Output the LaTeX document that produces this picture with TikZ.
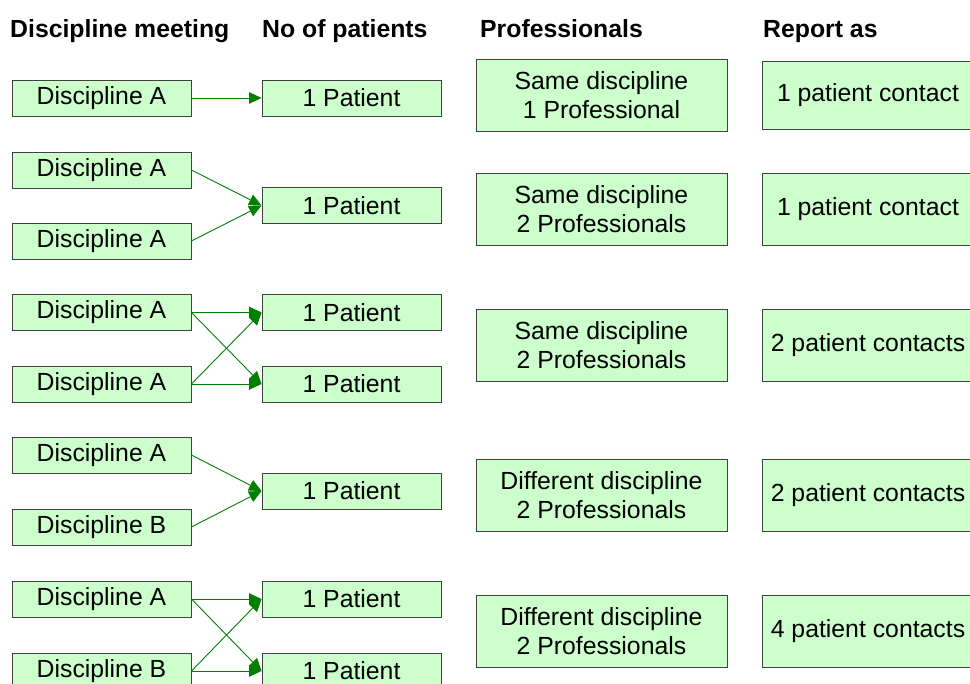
\documentclass[tikz,border=0pt]{standalone}
\usepackage{fontspec}
\setmainfont{Liberation Sans}
\usetikzlibrary{arrows.meta,positioning}
\definecolor{boxgreen}{HTML}{CCFFCC}
\definecolor{linkgreen}{HTML}{008000}
\tikzset{
  box/.style={draw=black!75, line width=0.9pt, fill=boxgreen, inner sep=0pt,
    align=center, font=\fontsize{24.8}{29.5}\selectfont},
  discbox/.style={box, minimum width=179pt, minimum height=36pt},
  patbox/.style={box, minimum width=179pt, minimum height=36pt},
  profbox/.style={box, minimum width=251pt, minimum height=72pt},
  reportbox/.style={box, minimum width=212pt, minimum height=72pt},
  heading/.style={anchor=base west, inner sep=0pt,
    font=\fontsize{24.8}{29.5}\selectfont\bfseries},
  link/.style={draw=linkgreen, line width=0.9pt,
    -{Triangle[length=12.5pt,width=11.5pt]}},
}

\begin{document}
\begin{tikzpicture}[x=1pt,y=-1pt]
  \useasboundingbox (0,0) rectangle (970,684);
  % column headings
  \node [heading] (hmeet) at (10,38) {Discipline meeting};
  \node [heading] (hpat) at (262,38) {No of patients};
  \node [heading] (hprof) at (480,38) {Professionals};
  \node [heading] (hrep) at (763,38) {Report as};
  % discipline meetings
  \node [discbox] (d1) at (101.5,98) {Discipline A};
  \node [discbox] (d2a) at (101.5,170) {Discipline A};
  \node [discbox] (d2b) at (101.5,241) {Discipline A};
  \node [discbox] (d3a) at (101.5,312.5) {Discipline A};
  \node [discbox] (d3b) at (101.5,384) {Discipline A};
  \node [discbox] (d4a) at (101.5,455) {Discipline A};
  \node [discbox] (d4b) at (101.5,527) {Discipline B};
  \node [discbox] (d5a) at (101.5,599) {Discipline A};
  \node [discbox] (d5b) at (101.5,671) {Discipline B};
  % patients
  \node [patbox] (p1) at (351.5,98) {1 Patient};
  \node [patbox] (p2) at (351.5,205.5) {1 Patient};
  \node [patbox] (p3a) at (351.5,312.5) {1 Patient};
  \node [patbox] (p3b) at (351.5,384) {1 Patient};
  \node [patbox] (p4) at (351.5,491) {1 Patient};
  \node [patbox] (p5a) at (351.5,599) {1 Patient};
  \node [patbox] (p5b) at (351.5,671) {1 Patient};
  % professionals
  \node [profbox] (pr1) at (601.5,95) {Same discipline\\1 Professional};
  \node [profbox] (pr2) at (601.5,209) {Same discipline\\2 Professionals};
  \node [profbox] (pr3) at (601.5,345) {Same discipline\\2 Professionals};
  \node [profbox] (pr4) at (601.5,495) {Different discipline\\2 Professionals};
  \node [profbox] (pr5) at (601.5,631) {Different discipline\\2 Professionals};
  % report as
  \node [reportbox, minimum height=68pt] (r1) at (868,95) {1 patient contact};
  \node [reportbox] (r2) at (868,209) {1 patient contact};
  \node [reportbox] (r3) at (868,345) {2 patient contacts};
  \node [reportbox] (r4) at (868,495) {2 patient contacts};
  \node [reportbox] (r5) at (868,631) {4 patient contacts};
  % connectors
  \draw [link] (d1.east) -- (p1.west);
  \draw [link] (d2a.east) -- (p2.west);
  \draw [link] (d2b.east) -- (p2.west);
  \draw [link] (d3a.east) -- (p3a.west);
  \draw [link] (d3a.east) -- (p3b.west);
  \draw [link] (d3b.east) -- (p3a.west);
  \draw [link] (d3b.east) -- (p3b.west);
  \draw [link] (d4a.east) -- (p4.west);
  \draw [link] (d4b.east) -- (p4.west);
  \draw [link] (d5a.east) -- (p5a.west);
  \draw [link] (d5a.east) -- (p5b.west);
  \draw [link] (d5b.east) -- (p5a.west);
  \draw [link] (d5b.east) -- (p5b.west);
\end{tikzpicture}
\end{document}
